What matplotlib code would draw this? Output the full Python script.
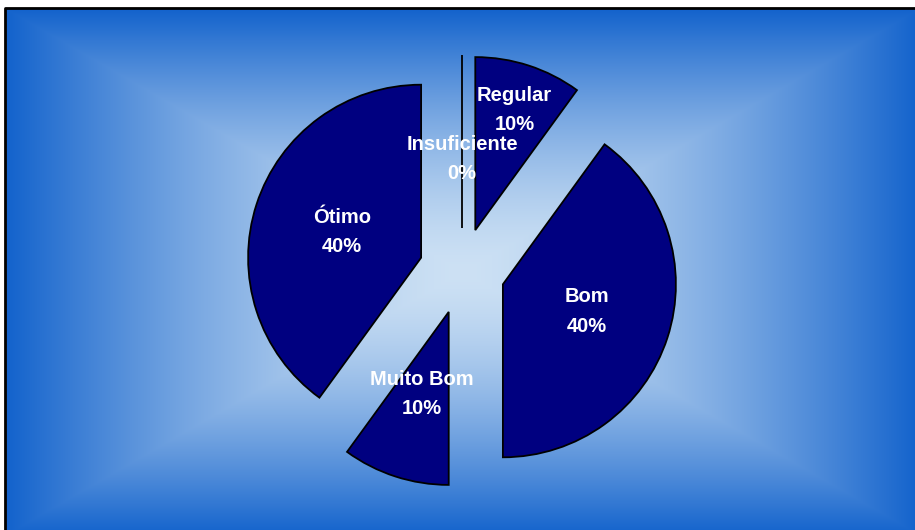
import numpy as np
import matplotlib
matplotlib.use("Agg")
import matplotlib.pyplot as plt

# dados
categorias = ["Insuficiente", "Regular", "Bom", "Muito Bom", "Ótimo"]
valores = [0, 10, 40, 10, 40]
percent = ["0%", "10%", "40%", "10%", "40%"]

# distancia do rotulo (fracao do raio) por fatia
dist_rotulo = [0.40, 0.73, 0.51, 0.50, 0.48]

W, H = 915, 530
fig = plt.figure(figsize=(W / 100, H / 100), dpi=100)
fig.patch.set_facecolor("white")

# fundo em degrade (retangular, claro no centro)
bx0, bx1, by0, by1 = 5, 920, 8, 535
cx, cy = (bx0 + bx1) / 2, (by0 + by1) / 2
xx, yy = np.meshgrid(np.arange(bx0, bx1), np.arange(by0, by1))
u = np.abs(xx - cx) / ((bx1 - bx0) / 2)
v = np.abs(yy - cy) / ((by1 - by0) / 2)
t = np.maximum(u, v)
c_in = np.array([205, 225, 244]) / 255
c_out = np.array([18, 98, 204]) / 255
img = c_in + (c_out - c_in) * t[..., None] ** 1.5

ax = fig.add_axes([0, 0, 1, 1])
ax.set_xlim(0, W)
ax.set_ylim(H, 0)
ax.axis("off")
ax.imshow(img, extent=(bx0, bx1, by1, by0), interpolation="bilinear", zorder=0)
ax.plot([bx0, bx0, bx1], [by1, by0, by0], color="black", lw=2, zorder=1)

# pizza
ax2 = fig.add_axes([0, 0, 1, 1])
ax2.set_xlim(0, W)
ax2.set_ylim(0, H)
ax2.set_aspect("equal")
ax2.axis("off")
centro = (462, H - 271)
raio = 173
wedges, _ = ax2.pie(valores, startangle=90, counterclock=False,
                    explode=[43] * len(valores), center=centro, radius=raio,
                    colors=["#000080"] * len(valores),
                    wedgeprops=dict(edgecolor="black", linewidth=1.3),
                    frame=True)
ax2.set_xlim(0, W)
ax2.set_ylim(0, H)
ax2.axis("off")

for w, cat, p, d in zip(wedges, categorias, percent, dist_rotulo):
    ang = np.deg2rad((w.theta1 + w.theta2) / 2)
    x = centro[0] + (43 + d * raio) * np.cos(ang)
    y = centro[1] + (43 + d * raio) * np.sin(ang)
    ax2.text(x, y, cat + "\n" + p, ha="center", va="center", color="white",
             fontsize=14.5, fontweight="bold", family="Liberation Sans",
             linespacing=1.7)

fig.savefig("out.png", dpi=100)
